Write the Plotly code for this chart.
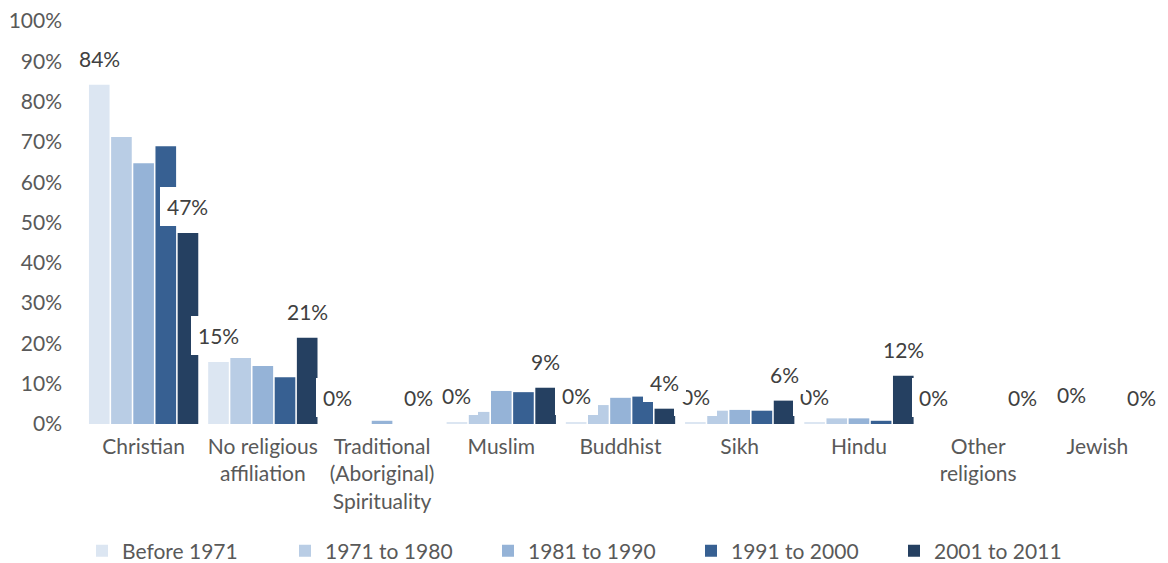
import plotly.graph_objects as go

categories = ["Christian", "No religious<br>affiliation", "Traditional<br>(Aboriginal)<br>Spirituality",
              "Muslim", "Buddhist", "Sikh", "Hindu", "Other<br>religions", "Jewish"]
series_names = ["Before 1971", "1971 to 1980", "1981 to 1990", "1991 to 2000", "2001 to 2011"]
before_1971 = [84.2, 15.4, 0.0, 0.4, 0.4, 0.3, 0.3, 0.0, 0.0]
y1971_1980 = [71.2, 16.4, 0.0, 3.0, 4.7, 3.3, 1.4, 0.0, 0.0]
y1981_1990 = [64.7, 14.4, 0.8, 8.2, 6.5, 3.5, 1.4, 0.0, 0.0]
y1991_2000 = [68.9, 11.6, 0.0, 7.9, 6.8, 3.3, 0.8, 0.0, 0.0]
y2001_2011 = [47.4, 21.4, 0.0, 9.0, 3.8, 5.8, 12.0, 0.0, 0.0]
colors = ["#DCE6F2", "#B9CDE5", "#95B3D7", "#376092", "#254061"]
labelled_series = [0, 4]
# manual nudges of individual data labels (series index, category index) -> (dx px, dy px)
label_nudges = {(4, 2): (-8, 0), (0, 8): (18, 3)}

values = [before_1971, y1971_1980, y1981_1990, y1991_2000, y2001_2011]

FONT = "Lato, 'Open Sans', sans-serif"
BARGAP = 0.07
fig = go.Figure()
for name, vals, col in zip(series_names, values, colors):
    fig.add_trace(go.Bar(x=categories, y=vals, name=name, marker=dict(color=col, line=dict(width=0))))

n = len(series_names)
slot = (1 - BARGAP) / n
annotations = []
late = []
for k in labelled_series:
    for i, v in enumerate(values[k]):
        xpos = i - (1 - BARGAP) / 2 + (k + 0.5) * slot
        dx, dy = label_nudges.get((k, i), (0, 0))
        ann = dict(
            x=xpos, y=v, xref="x", yref="y", text=f"{round(v):.0f}%", showarrow=False,
            xanchor="center", yanchor="bottom", yshift=7 + dy, xshift=dx,
            bgcolor="white", borderpad=7, borderwidth=0,
            font=dict(family=FONT, size=21, color="#404040"))
        if (k, i) in label_nudges:
            late.append(ann)
        else:
            annotations.append(ann)
annotations += late

fig.update_layout(
    width=1168, height=563,
    barmode="group", bargap=BARGAP, bargroupgap=0.07,
    plot_bgcolor="white", paper_bgcolor="white",
    margin=dict(l=84, r=11, t=20.5, b=139, autoexpand=False),
    font=dict(family=FONT, size=21, color="#595959"),
    annotations=annotations,
    legend=dict(orientation="h", xref="container", yref="container", x=82 / 1168, xanchor="left",
                y=1 - 551 / 563, yanchor="middle", font=dict(size=21, color="#595959"),
                traceorder="normal", entrywidth=158, entrywidthmode="pixels"),
    xaxis=dict(range=[-0.5, len(categories) - 0.5], showgrid=False, showline=False, zeroline=False,
               ticks="", ticklabelstandoff=8, tickfont=dict(size=21, color="#595959")),
    yaxis=dict(range=[0, 100], dtick=10, ticksuffix="%", showgrid=False, showline=False, zeroline=False,
               ticks="", ticklabelstandoff=21, tickfont=dict(size=21, color="#595959")),
)
fig.write_html("out.html")
